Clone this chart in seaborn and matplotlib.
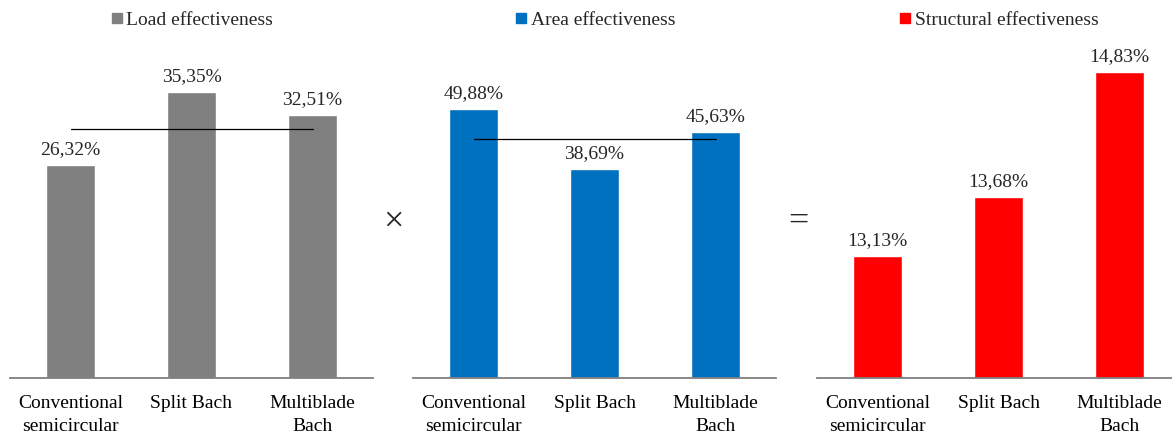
import matplotlib
matplotlib.use("Agg")
import matplotlib.pyplot as plt
from matplotlib.lines import Line2D
import seaborn as sns
import pandas as pd

categories = ["Conventional\nsemicircular", "Split Bach", "Multiblade\nBach"]
load_eff = [26.32, 35.35, 32.51]
area_eff = [49.88, 38.69, 45.63]
struct_eff = [13.13, 13.68, 14.83]
series_names = ["Load effectiveness", "Area effectiveness", "Structural effectiveness"]
series_colors = ["#808080", "#0070C0", "#FF0000"]
ref_levels = [30.8, 44.3, None]
y_limits = [(0, 40), (0, 60), (12, 15)]

sns.set_theme(style="white")
plt.rcParams["font.family"] = ["Liberation Serif", "DejaVu Serif"]

W, H = 1172, 436
fig = plt.figure(figsize=(W / 100, H / 100), dpi=100)

panel_left = [10, 413, 817]
panel_w = 363
bottom_px, top_px = 378, 54

series_values = [load_eff, area_eff, struct_eff]
for i in range(3):
    ax = fig.add_axes([panel_left[i] / W, 1 - bottom_px / H,
                       panel_w / W, (bottom_px - top_px) / H])
    df = pd.DataFrame({"cat": categories, "val": series_values[i]})
    sns.barplot(data=df, x="cat", y="val", color=series_colors[i],
                width=0.4, saturation=1, ax=ax)
    ax.set_xlim(-0.5, 2.5)
    ax.set_ylim(*y_limits[i])
    for spine in ["top", "right", "left"]:
        ax.spines[spine].set_visible(False)
    ax.spines["bottom"].set_color("#7f7f7f")
    ax.spines["bottom"].set_linewidth(1.3)
    ax.set_yticks([])
    ax.set_xlabel("")
    ax.set_ylabel("")
    ax.tick_params(axis="x", length=0, pad=12.5, labelsize=14, labelcolor="black")
    for t in ax.get_xticklabels():
        t.set_linespacing(1.45)
    labels = [f"{v:.2f}".replace(".", ",") + "%" for v in series_values[i]]
    ax.bar_label(ax.containers[0], labels=labels, padding=5, fontsize=14)
    if ref_levels[i] is not None:
        ax.plot([0, 2], [ref_levels[i]] * 2, color="black", lw=0.9)
    handle = Line2D([], [], marker="s", linestyle="none", markersize=7.5,
                    color=series_colors[i])
    ax.legend([handle], [series_names[i]], loc="center",
              bbox_to_anchor=(0.5, 1 + (top_px - 20) / (bottom_px - top_px)),
              frameon=False, fontsize=14, handletextpad=0.15,
              borderaxespad=0, handlelength=0.7)

fig.text(393 / W, 1 - 222 / H, "×", ha="center", va="center", fontsize=26)
fig.text(798 / W, 1 - 222 / H, "=", ha="center", va="center", fontsize=26)

fig.savefig("out.png", dpi=100)
